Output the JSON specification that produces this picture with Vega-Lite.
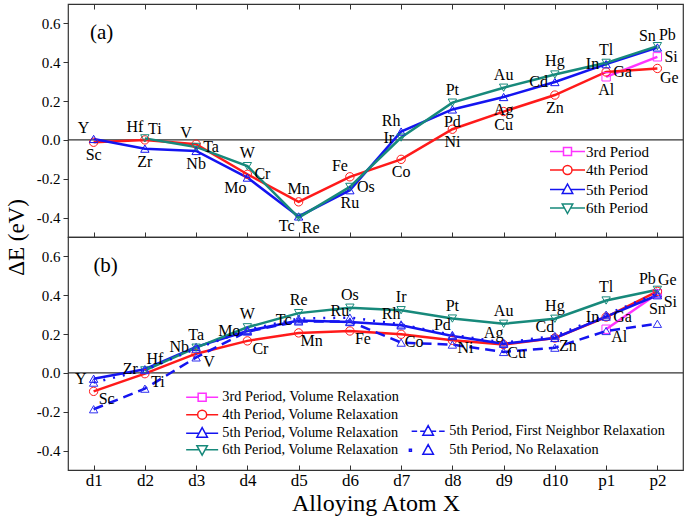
{
  "$schema": "https://vega.github.io/schema/vega-lite/v6.json",
  "background": "white",
  "padding": {"left": 4, "top": 2, "right": 3, "bottom": 4},
  "bounds": "flush",
  "spacing": 0,
  "config": {
    "font": "Liberation Serif",
    "view": {"stroke": "#333", "strokeWidth": 1.2},
    "axis": {"labelFont": "Liberation Serif", "titleFont": "Liberation Serif", "labelColor": "black", "titleColor": "black", "tickColor": "#333", "grid": false, "domain": false},
    "text": {"font": "Liberation Serif", "fontSize": 16, "color": "black"},
    "legend": {"labelFont": "Liberation Serif", "labelFontSize": 15, "labelColor": "black", "labelLimit": 400, "symbolSize": 100, "symbolStrokeWidth": 1.5, "symbolOpacity": 1, "padding": 0, "rowPadding": 2.5}
  },
  "datasets": {
    "a": [
      {"s": "3rd Period", "cat": "p1", "v": 0.325, "el": "Al", "pos": "S"},
      {"s": "3rd Period", "cat": "p2", "v": 0.428, "el": "Si", "pos": "E"},
      {"s": "4th Period", "cat": "d1", "v": -0.012, "el": "Sc", "pos": "S"},
      {"s": "4th Period", "cat": "d2", "v": 0.0, "el": "Ti", "pos": "NE"},
      {"s": "4th Period", "cat": "d3", "v": -0.022, "el": "V", "pos": "NW"},
      {"s": "4th Period", "cat": "d4", "v": -0.177, "el": "Cr", "pos": "E"},
      {"s": "4th Period", "cat": "d5", "v": -0.319, "el": "Mn", "pos": "N"},
      {"s": "4th Period", "cat": "d6", "v": -0.19, "el": "Fe", "pos": "NW"},
      {"s": "4th Period", "cat": "d7", "v": -0.1, "el": "Co", "pos": "S"},
      {"s": "4th Period", "cat": "d8", "v": 0.055, "el": "Ni", "pos": "S"},
      {"s": "4th Period", "cat": "d9", "v": 0.146, "el": "Cu", "pos": "S"},
      {"s": "4th Period", "cat": "d10", "v": 0.231, "el": "Zn", "pos": "S"},
      {"s": "4th Period", "cat": "p1", "v": 0.35, "el": "Ga", "pos": "E"},
      {"s": "4th Period", "cat": "p2", "v": 0.368, "el": "Ge", "pos": "SE"},
      {"s": "5th Period", "cat": "d1", "v": 0.005, "el": "Y", "pos": "NW"},
      {"s": "5th Period", "cat": "d2", "v": -0.045, "el": "Zr", "pos": "S"},
      {"s": "5th Period", "cat": "d3", "v": -0.057, "el": "Nb", "pos": "S"},
      {"s": "5th Period", "cat": "d4", "v": -0.194, "el": "Mo", "pos": "SW"},
      {"s": "5th Period", "cat": "d5", "v": -0.394, "el": "Tc", "pos": "SW"},
      {"s": "5th Period", "cat": "d6", "v": -0.259, "el": "Ru", "pos": "S"},
      {"s": "5th Period", "cat": "d7", "v": 0.043, "el": "Rh", "pos": "NW"},
      {"s": "5th Period", "cat": "d8", "v": 0.157, "el": "Pd", "pos": "S"},
      {"s": "5th Period", "cat": "d9", "v": 0.221, "el": "Ag", "pos": "S"},
      {"s": "5th Period", "cat": "d10", "v": 0.298, "el": "Cd", "pos": "W"},
      {"s": "5th Period", "cat": "p1", "v": 0.39, "el": "In", "pos": "W"},
      {"s": "5th Period", "cat": "p2", "v": 0.476, "el": "Sn", "pos": "NW"},
      {"s": "6th Period", "cat": "d2", "v": 0.008, "el": "Hf", "pos": "NW"},
      {"s": "6th Period", "cat": "d3", "v": -0.036, "el": "Ta", "pos": "E"},
      {"s": "6th Period", "cat": "d4", "v": -0.135, "el": "W", "pos": "N"},
      {"s": "6th Period", "cat": "d5", "v": -0.4, "el": "Re", "pos": "SE"},
      {"s": "6th Period", "cat": "d6", "v": -0.242, "el": "Os", "pos": "E"},
      {"s": "6th Period", "cat": "d7", "v": 0.012, "el": "Ir", "pos": "W"},
      {"s": "6th Period", "cat": "d8", "v": 0.192, "el": "Pt", "pos": "N"},
      {"s": "6th Period", "cat": "d9", "v": 0.269, "el": "Au", "pos": "N"},
      {"s": "6th Period", "cat": "d10", "v": 0.337, "el": "Hg", "pos": "N"},
      {"s": "6th Period", "cat": "p1", "v": 0.397, "el": "Tl", "pos": "N"},
      {"s": "6th Period", "cat": "p2", "v": 0.483, "el": "Pb", "pos": "NE"}
    ],
    "b": [
      {"s": "3rd Period, Volume Relaxation", "cat": "p1", "v": 0.225, "el": "Al", "pos": "SE"},
      {"s": "3rd Period, Volume Relaxation", "cat": "p2", "v": 0.408, "el": "Si", "pos": "SE"},
      {"s": "4th Period, Volume Relaxation", "cat": "d1", "v": -0.095, "el": "Sc", "pos": "SE"},
      {"s": "4th Period, Volume Relaxation", "cat": "d2", "v": -0.004, "el": "Ti", "pos": "SE"},
      {"s": "4th Period, Volume Relaxation", "cat": "d3", "v": 0.099, "el": "V", "pos": "SE"},
      {"s": "4th Period, Volume Relaxation", "cat": "d4", "v": 0.165, "el": "Cr", "pos": "SE"},
      {"s": "4th Period, Volume Relaxation", "cat": "d5", "v": 0.206, "el": "Mn", "pos": "SE"},
      {"s": "4th Period, Volume Relaxation", "cat": "d6", "v": 0.216, "el": "Fe", "pos": "SE"},
      {"s": "4th Period, Volume Relaxation", "cat": "d7", "v": 0.199, "el": "Co", "pos": "SE"},
      {"s": "4th Period, Volume Relaxation", "cat": "d8", "v": 0.168, "el": "Ni", "pos": "SE"},
      {"s": "4th Period, Volume Relaxation", "cat": "d9", "v": 0.146, "el": "Cu", "pos": "SE"},
      {"s": "4th Period, Volume Relaxation", "cat": "d10", "v": 0.18, "el": "Zn", "pos": "SE"},
      {"s": "4th Period, Volume Relaxation", "cat": "p1", "v": 0.288, "el": "Ga", "pos": "E"},
      {"s": "4th Period, Volume Relaxation", "cat": "p2", "v": 0.42, "el": "Ge", "pos": "NE"},
      {"s": "5th Period, Volume Relaxation", "cat": "d1", "v": -0.03, "el": "Y", "pos": "W"},
      {"s": "5th Period, Volume Relaxation", "cat": "d2", "v": 0.019, "el": "Zr", "pos": "W"},
      {"s": "5th Period, Volume Relaxation", "cat": "d3", "v": 0.134, "el": "Nb", "pos": "W"},
      {"s": "5th Period, Volume Relaxation", "cat": "d4", "v": 0.216, "el": "Mo", "pos": "W"},
      {"s": "5th Period, Volume Relaxation", "cat": "d5", "v": 0.27, "el": "Tc", "pos": "W"},
      {"s": "5th Period, Volume Relaxation", "cat": "d6", "v": 0.262, "el": "Ru", "pos": "NW"},
      {"s": "5th Period, Volume Relaxation", "cat": "d7", "v": 0.245, "el": "Rh", "pos": "NW"},
      {"s": "5th Period, Volume Relaxation", "cat": "d8", "v": 0.19, "el": "Pd", "pos": "NW"},
      {"s": "5th Period, Volume Relaxation", "cat": "d9", "v": 0.15, "el": "Ag", "pos": "NW"},
      {"s": "5th Period, Volume Relaxation", "cat": "d10", "v": 0.18, "el": "Cd", "pos": "NW"},
      {"s": "5th Period, Volume Relaxation", "cat": "p1", "v": 0.29, "el": "In", "pos": "W"},
      {"s": "5th Period, Volume Relaxation", "cat": "p2", "v": 0.4, "el": "Sn", "pos": "S"},
      {"s": "6th Period, Volume Relaxation", "cat": "d2", "v": 0.013, "el": "Hf", "pos": "NE"},
      {"s": "6th Period, Volume Relaxation", "cat": "d3", "v": 0.13, "el": "Ta", "pos": "N"},
      {"s": "6th Period, Volume Relaxation", "cat": "d4", "v": 0.235, "el": "W", "pos": "N"},
      {"s": "6th Period, Volume Relaxation", "cat": "d5", "v": 0.308, "el": "Re", "pos": "N"},
      {"s": "6th Period, Volume Relaxation", "cat": "d6", "v": 0.336, "el": "Os", "pos": "N"},
      {"s": "6th Period, Volume Relaxation", "cat": "d7", "v": 0.323, "el": "Ir", "pos": "N"},
      {"s": "6th Period, Volume Relaxation", "cat": "d8", "v": 0.28, "el": "Pt", "pos": "N"},
      {"s": "6th Period, Volume Relaxation", "cat": "d9", "v": 0.253, "el": "Au", "pos": "N"},
      {"s": "6th Period, Volume Relaxation", "cat": "d10", "v": 0.279, "el": "Hg", "pos": "N"},
      {"s": "6th Period, Volume Relaxation", "cat": "p1", "v": 0.373, "el": "Tl", "pos": "N"},
      {"s": "6th Period, Volume Relaxation", "cat": "p2", "v": 0.428, "el": "Pb", "pos": "NW"},
      {"s": "5th Period, First Neighbor Relaxation", "cat": "d1", "v": -0.187},
      {"s": "5th Period, First Neighbor Relaxation", "cat": "d2", "v": -0.081},
      {"s": "5th Period, First Neighbor Relaxation", "cat": "d3", "v": 0.08},
      {"s": "5th Period, First Neighbor Relaxation", "cat": "d4", "v": 0.213},
      {"s": "5th Period, First Neighbor Relaxation", "cat": "d5", "v": 0.265},
      {"s": "5th Period, First Neighbor Relaxation", "cat": "d6", "v": 0.265},
      {"s": "5th Period, First Neighbor Relaxation", "cat": "d7", "v": 0.156},
      {"s": "5th Period, First Neighbor Relaxation", "cat": "d8", "v": 0.146},
      {"s": "5th Period, First Neighbor Relaxation", "cat": "d9", "v": 0.108},
      {"s": "5th Period, First Neighbor Relaxation", "cat": "d10", "v": 0.13},
      {"s": "5th Period, First Neighbor Relaxation", "cat": "p1", "v": 0.216},
      {"s": "5th Period, First Neighbor Relaxation", "cat": "p2", "v": 0.253},
      {"s": "5th Period, No Relaxation", "cat": "d1", "v": -0.05},
      {"s": "5th Period, No Relaxation", "cat": "d2", "v": 0.015},
      {"s": "5th Period, No Relaxation", "cat": "d3", "v": 0.125},
      {"s": "5th Period, No Relaxation", "cat": "d4", "v": 0.222},
      {"s": "5th Period, No Relaxation", "cat": "d5", "v": 0.28},
      {"s": "5th Period, No Relaxation", "cat": "d6", "v": 0.285},
      {"s": "5th Period, No Relaxation", "cat": "d7", "v": 0.25},
      {"s": "5th Period, No Relaxation", "cat": "d8", "v": 0.196},
      {"s": "5th Period, No Relaxation", "cat": "d9", "v": 0.156},
      {"s": "5th Period, No Relaxation", "cat": "d10", "v": 0.19},
      {"s": "5th Period, No Relaxation", "cat": "p1", "v": 0.3},
      {"s": "5th Period, No Relaxation", "cat": "p2", "v": 0.41}
    ]
  },
  "resolve": {"scale": {"color": "independent", "shape": "independent", "stroke": "independent"}},
  "vconcat": [
    {
      "width": 615,
      "height": 233,
      "data": {"name": "a"},
      "resolve": {"axis": {"x": "independent"}},
      "layer": [
        {
          "data": {"values": [{}]},
          "mark": {"type": "rule", "color": "#333", "strokeWidth": 1.2},
          "encoding": {"y": {"datum": 0, "type": "quantitative"}}
        },
        {
          "data": {"values": [{}]},
          "mark": {"type": "text", "fontSize": 21, "dx": 8, "baseline": "middle"},
          "encoding": {
            "x": {"datum": "d1", "type": "ordinal", "axis": {"orient": "top", "labels": false, "title": null, "tickSize": 5, "offset": -5, "domain": false}},
            "y": {"datum": 0.55, "type": "quantitative"},
            "text": {"value": "(a)"}
          }
        },
        {
          "encoding": {
            "x": {"field": "cat", "type": "ordinal", "sort": ["d1","d2","d3","d4","d5","d6","d7","d8","d9","d10","p1","p2"], "scale": {"type": "point", "padding": 0.5}, "axis": {"orient": "bottom", "labels": false, "title": null, "tickSize": 5, "offset": -5, "domain": false}},
            "y": {"field": "v", "type": "quantitative", "scale": {"domain": [-0.5, 0.7], "nice": false, "zero": false},
              "axis": {"values": [-0.4,-0.3,-0.2,-0.1,0,0.1,0.2,0.3,0.4,0.5,0.6], "labelExpr": "abs(round(datum.value*10)) % 2 == 0 ? replace(format(datum.value, '.1f'), '\u2212', '-') : ''", "tickSize": {"condition": {"test": "abs(round(datum.value*10)) % 2 == 0", "value": 5}, "value": 3}, "labelFontSize": 15, "labelPadding": 3, "labelOverlap": false, "title": "ΔE (eV)", "titleFontSize": 23, "titleFontWeight": "normal", "titleX": -52, "titleY": 233, "titleBaseline": "middle", "titleAngle": -90}}
          },
          "resolve": {"scale": {"color": "independent", "shape": "independent"}},
          "layer": [
            {
              "mark": {"type": "line", "strokeWidth": 2.5},
              "encoding": {"stroke": {"field": "s", "type": "nominal", "scale": {"domain": ["3rd Period","4th Period","5th Period","6th Period"], "range": ["#ff33ff","#ff1a1a","#1414f0","#17897b"]}, "legend": null}}
            },
            {
              "mark": {"type": "point", "filled": false, "size": 70, "strokeWidth": 1, "opacity": 1},
              "encoding": {
                "color": {"field": "s", "type": "nominal", "scale": {"domain": ["3rd Period","4th Period","5th Period","6th Period"], "range": ["#ff33ff","#ff1a1a","#1414f0","#17897b"]}, "legend": null},
                "shape": {"field": "s", "type": "nominal", "scale": {"domain": ["3rd Period","4th Period","5th Period","6th Period"], "range": ["square","circle","triangle-up","triangle-down"]}, "legend": null}
              }
            },
            {
              "mark": {"type": "point", "filled": false, "size": 100, "strokeWidth": 1.5, "opacity": 0},
              "encoding": {
                "color": {"field": "s", "type": "nominal", "scale": {"domain": ["3rd Period","4th Period","5th Period","6th Period"], "range": ["#ff33ff","#ff1a1a","#1414f0","#17897b"]}, "legend": {"orient": "none", "legendX": 492, "legendY": 140, "title": null, "labelOffset": 11, "symbolOpacity": 1}},
                "shape": {"field": "s", "type": "nominal", "scale": {"domain": ["3rd Period","4th Period","5th Period","6th Period"], "range": ["M-3.5,0H-0.8M0.8,0H3.5M-0.8,-0.8H0.8V0.8H-0.8Z","M-3.5,0H-0.9M0.9,0H3.5M0.9,0A0.9,0.9,0,1,1,-0.9,0A0.9,0.9,0,1,1,0.9,0Z","M-3.5,0H-0.61M0.61,0H3.5M0,-1.1L1.05,0.8H-1.05Z","M-3.5,0H-0.61M0.61,0H3.5M0,1.1L1.05,-0.8H-1.05Z"]}, "legend": {"orient": "none", "legendX": 492, "legendY": 140, "title": null, "labelOffset": 11, "symbolOpacity": 1}}
              }
            },
            {"transform": [{"filter": "datum.pos === 'N'"}], "mark": {"type": "text", "dy": -13, "baseline": "middle"}, "encoding": {"text": {"field": "el"}}},
            {"transform": [{"filter": "datum.pos === 'S'"}], "mark": {"type": "text", "dy": 13, "baseline": "middle"}, "encoding": {"text": {"field": "el"}}},
            {"transform": [{"filter": "datum.pos === 'E'"}], "mark": {"type": "text", "dx": 7, "align": "left", "baseline": "middle"}, "encoding": {"text": {"field": "el"}}},
            {"transform": [{"filter": "datum.pos === 'W'"}], "mark": {"type": "text", "dx": -7, "align": "right", "baseline": "middle"}, "encoding": {"text": {"field": "el"}}},
            {"transform": [{"filter": "datum.pos === 'NE'"}], "mark": {"type": "text", "dx": 10, "dy": -11, "baseline": "middle"}, "encoding": {"text": {"field": "el"}}},
            {"transform": [{"filter": "datum.pos === 'NW'"}], "mark": {"type": "text", "dx": -10, "dy": -11, "baseline": "middle"}, "encoding": {"text": {"field": "el"}}},
            {"transform": [{"filter": "datum.pos === 'SE'"}], "mark": {"type": "text", "dx": 12, "dy": 10, "baseline": "middle"}, "encoding": {"text": {"field": "el"}}},
            {"transform": [{"filter": "datum.pos === 'SW'"}], "mark": {"type": "text", "dx": -12, "dy": 10, "baseline": "middle"}, "encoding": {"text": {"field": "el"}}}
          ]
        }
      ]
    },
    {
      "width": 615,
      "height": 233,
      "data": {"name": "b"},
      "layer": [
        {
          "data": {"values": [{}]},
          "mark": {"type": "rule", "color": "#333", "strokeWidth": 1.2},
          "encoding": {"y": {"datum": 0, "type": "quantitative"}}
        },
        {
          "data": {"values": [{}]},
          "mark": {"type": "text", "fontSize": 21, "dx": 12, "baseline": "middle"},
          "encoding": {
            "x": {"datum": "d1", "type": "ordinal"},
            "y": {"datum": 0.55, "type": "quantitative"},
            "text": {"value": "(b)"}
          }
        },
        {
          "encoding": {
            "x": {"field": "cat", "type": "ordinal", "sort": ["d1","d2","d3","d4","d5","d6","d7","d8","d9","d10","p1","p2"], "scale": {"type": "point", "padding": 0.5}, "axis": {"orient": "bottom", "labelFontSize": 17, "labelPadding": 2, "labelAngle": 0, "labelAlign": "center", "labelBaseline": "top", "tickSize": 5, "offset": -5, "domain": false, "title": "Alloying Atom X", "titleFontSize": 24, "titleFontWeight": "normal", "titlePadding": 3}},
            "y": {"field": "v", "type": "quantitative", "scale": {"domain": [-0.5, 0.7], "nice": false, "zero": false},
              "axis": {"values": [-0.4,-0.3,-0.2,-0.1,0,0.1,0.2,0.3,0.4,0.5,0.6], "labelExpr": "abs(round(datum.value*10)) % 2 == 0 ? replace(format(datum.value, '.1f'), '\u2212', '-') : ''", "tickSize": {"condition": {"test": "abs(round(datum.value*10)) % 2 == 0", "value": 5}, "value": 3}, "labelFontSize": 15, "labelPadding": 3, "labelOverlap": false, "title": null}}
          },
          "resolve": {"scale": {"color": "independent", "shape": "independent"}},
          "layer": [
            {
              "transform": [{"filter": "indexof(datum.s, 'Volume') >= 0"}],
              "mark": {"type": "line", "strokeWidth": 2.5},
              "encoding": {"stroke": {"field": "s", "type": "nominal", "scale": {"domain": ["3rd Period, Volume Relaxation","4th Period, Volume Relaxation","5th Period, Volume Relaxation","6th Period, Volume Relaxation"], "range": ["#ff33ff","#ff1a1a","#1414f0","#17897b"]}, "legend": null}}
            },
            {
              "transform": [{"filter": "indexof(datum.s, 'Volume') >= 0"}],
              "mark": {"type": "point", "filled": false, "size": 70, "strokeWidth": 1, "opacity": 1},
              "encoding": {
                "color": {"field": "s", "type": "nominal", "scale": {"domain": ["3rd Period, Volume Relaxation","4th Period, Volume Relaxation","5th Period, Volume Relaxation","6th Period, Volume Relaxation"], "range": ["#ff33ff","#ff1a1a","#1414f0","#17897b"]}, "legend": null},
                "shape": {"field": "s", "type": "nominal", "scale": {"domain": ["3rd Period, Volume Relaxation","4th Period, Volume Relaxation","5th Period, Volume Relaxation","6th Period, Volume Relaxation"], "range": ["square","circle","triangle-up","triangle-down"]}, "legend": null}
              }
            },
            {
              "transform": [{"filter": "datum.s === '5th Period, First Neighbor Relaxation'"}],
              "mark": {"type": "line", "strokeWidth": 2.5, "strokeDash": [10, 6], "color": "#1414f0"}
            },
            {
              "transform": [{"filter": "datum.s === '5th Period, No Relaxation'"}],
              "mark": {"type": "line", "strokeWidth": 2.5, "strokeDash": [2, 8], "color": "#1414f0"}
            },
            {
              "transform": [{"filter": "indexof(datum.s, 'Volume') < 0"}],
              "mark": {"type": "point", "filled": false, "size": 70, "strokeWidth": 1, "opacity": 1, "shape": "triangle-up", "color": "#3030f0"}
            },
            {
              "transform": [{"filter": "indexof(datum.s, 'Volume') >= 0"}],
              "mark": {"type": "point", "filled": false, "size": 100, "strokeWidth": 1.5, "opacity": 0},
              "encoding": {
                "color": {"field": "s", "type": "nominal", "scale": {"domain": ["3rd Period, Volume Relaxation","4th Period, Volume Relaxation","5th Period, Volume Relaxation","6th Period, Volume Relaxation"], "range": ["#ff33ff","#ff1a1a","#1414f0","#17897b"]}, "legend": {"orient": "none", "legendX": 127, "legendY": 153, "title": null, "labelOffset": 13, "labelFontSize": 14.3, "rowPadding": 1.5, "symbolOpacity": 1}},
                "shape": {"field": "s", "type": "nominal", "scale": {"domain": ["3rd Period, Volume Relaxation","4th Period, Volume Relaxation","5th Period, Volume Relaxation","6th Period, Volume Relaxation"], "range": ["M-3.2,0H-0.8M0.8,0H3.2M-0.8,-0.8H0.8V0.8H-0.8Z","M-3.2,0H-0.9M0.9,0H3.2M0.9,0A0.9,0.9,0,1,1,-0.9,0A0.9,0.9,0,1,1,0.9,0Z","M-3.2,0H-0.61M0.61,0H3.2M0,-1.1L1.05,0.8H-1.05Z","M-3.2,0H-0.61M0.61,0H3.2M0,1.1L1.05,-0.8H-1.05Z"]}, "legend": {"orient": "none", "legendX": 127, "legendY": 153, "title": null, "labelOffset": 13, "labelFontSize": 14.3, "rowPadding": 1.5, "symbolOpacity": 1}}
              }
            },
            {
              "transform": [{"filter": "indexof(datum.s, 'Volume') < 0"}],
              "mark": {"type": "point", "filled": false, "size": 100, "strokeWidth": 1.5, "opacity": 0},
              "encoding": {
                "color": {"field": "s", "type": "nominal", "scale": {"domain": ["5th Period, First Neighbor Relaxation","5th Period, No Relaxation"], "range": ["#1414f0","#1414f0"]}, "legend": {"orient": "none", "legendX": 353, "legendY": 187, "title": null, "labelOffset": 14, "labelFontSize": 14.3, "rowPadding": 2, "symbolOpacity": 1}},
                "shape": {"field": "s", "type": "nominal", "scale": {"domain": ["5th Period, First Neighbor Relaxation","5th Period, No Relaxation"], "range": ["M-3.3,0H-2.2M-1.6,0H-0.61M0.61,0H1.6M2.2,0H3.3M0,-1.1L1.05,0.8H-1.05Z","M-3.75,-0.2H-3.35V0.2H-3.75ZM0,-1.1L1.05,0.8H-1.05Z"]}, "legend": {"orient": "none", "legendX": 353, "legendY": 187, "title": null, "labelOffset": 14, "labelFontSize": 14.3, "rowPadding": 2, "symbolOpacity": 1}}
              }
            },
            {"transform": [{"filter": "datum.pos === 'N'"}], "mark": {"type": "text", "dy": -13, "baseline": "middle"}, "encoding": {"text": {"field": "el"}}},
            {"transform": [{"filter": "datum.pos === 'S'"}], "mark": {"type": "text", "dy": 14, "baseline": "middle"}, "encoding": {"text": {"field": "el"}}},
            {"transform": [{"filter": "datum.pos === 'E'"}], "mark": {"type": "text", "dx": 7, "align": "left", "baseline": "middle"}, "encoding": {"text": {"field": "el"}}},
            {"transform": [{"filter": "datum.pos === 'W'"}], "mark": {"type": "text", "dx": -7, "align": "right", "baseline": "middle"}, "encoding": {"text": {"field": "el"}}},
            {"transform": [{"filter": "datum.pos === 'NE'"}], "mark": {"type": "text", "dx": 10, "dy": -11, "baseline": "middle"}, "encoding": {"text": {"field": "el"}}},
            {"transform": [{"filter": "datum.pos === 'NW'"}], "mark": {"type": "text", "dx": -10, "dy": -11, "baseline": "middle"}, "encoding": {"text": {"field": "el"}}},
            {"transform": [{"filter": "datum.pos === 'SE'"}], "mark": {"type": "text", "dx": 13, "dy": 8, "baseline": "middle"}, "encoding": {"text": {"field": "el"}}},
            {"transform": [{"filter": "datum.pos === 'SW'"}], "mark": {"type": "text", "dx": -12, "dy": 10, "baseline": "middle"}, "encoding": {"text": {"field": "el"}}}
          ]
        }
      ]
    }
  ]
}
